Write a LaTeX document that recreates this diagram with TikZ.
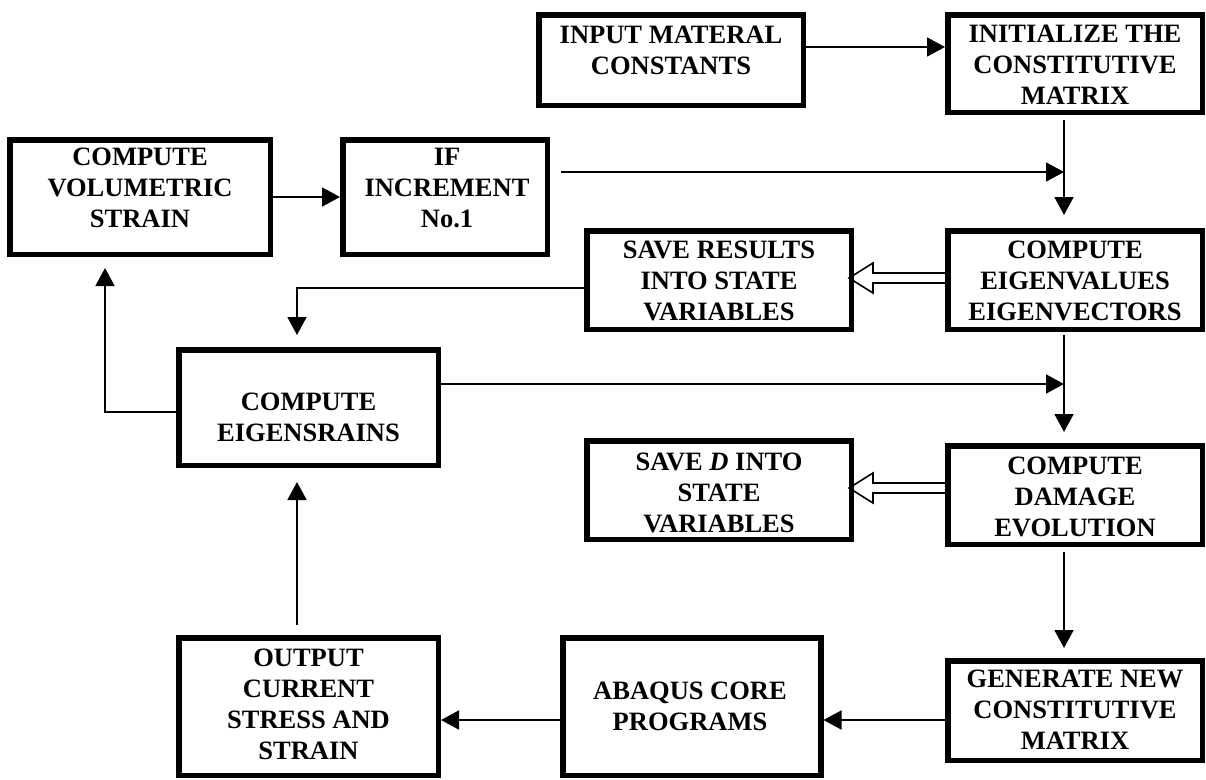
\documentclass[tikz,border=0pt]{standalone}
\usepackage{fontspec}
\setmainfont{Liberation Serif}
\usetikzlibrary{arrows.meta,calc}
\begin{document}
\begin{tikzpicture}[x=1pt,y=-1pt,
  box/.style={draw, line width=5.5pt, inner sep=0pt},
  txt/.style={inner sep=0pt, align=center, font=\fontsize{26.5}{31}\selectfont\bfseries},
  arr/.style={line width=1.8pt, -{Triangle[length=18pt,width=19pt]}},
  hol/.style={line width=1.6pt}]
\useasboundingbox (0,0) rectangle (1206,779);
% boxes
\node[box, minimum width=264.5, minimum height=90.5] (inp) at (671,60) {};
\node[box, minimum width=254.5, minimum height=97.5] (ini) at (1075,63.5) {};
\node[box, minimum width=260.5, minimum height=114.5] (vol) at (140,197) {};
\node[box, minimum width=204.5, minimum height=114.5] (iff) at (445,197) {};
\node[box, minimum width=264.5, minimum height=98.5] (sres) at (719,280) {};
\node[box, minimum width=254.5, minimum height=98.5] (eig) at (1075,280) {};
\node[box, minimum width=259.5, minimum height=115.5] (estr) at (308.5,407.5) {};
\node[box, minimum width=264.5, minimum height=98.5] (sd) at (719,490) {};
\node[box, minimum width=254.5, minimum height=98.5] (dam) at (1075,495) {};
\node[box, minimum width=254.5, minimum height=99.5] (gen) at (1075,710.5) {};
\node[box, minimum width=258, minimum height=137.5] (aba) at (691.75,706.5) {};
\node[box, minimum width=259.5, minimum height=137.5] (out) at (308.5,706.5) {};
% texts
\node[txt] (inp-t) at (671,50) {INPUT MATERAL\\CONSTANTS};
\node[txt] (ini-t) at (1075,65) {INITIALIZE THE\\CONSTITUTIVE\\MATRIX};
\node[txt] (vol-t) at (140,188) {COMPUTE\\VOLUMETRIC\\STRAIN};
\node[txt] (iff-t) at (447,188) {IF\\INCREMENT\\No.1};
\node[txt] (sres-t) at (719,281) {SAVE RESULTS\\INTO STATE\\VARIABLES};
\node[txt] (eig-t) at (1075,281) {COMPUTE\\EIGENVALUES\\EIGENVECTORS};
\node[txt] (estr-t) at (308.5,417.5) {COMPUTE\\EIGENSRAINS};
\node[txt] (sd-t) at (719,492.5) {SAVE \textit{D} INTO\\STATE\\VARIABLES};
\node[txt] (dam-t) at (1075,497) {COMPUTE\\DAMAGE\\EVOLUTION};
\node[txt] (gen-t) at (1075,710) {GENERATE NEW\\CONSTITUTIVE\\MATRIX};
\node[txt] (aba-t) at (690,706.5) {ABAQUS CORE\\PROGRAMS};
\node[txt] (out-t) at (308.5,704) {OUTPUT\\CURRENT\\STRESS AND\\STRAIN};
% helper coordinates
\coordinate (yA) at (0,47);
\coordinate (j1) at (1064,172);
\coordinate (j2) at (1064,384);
\coordinate (xC) at (297,0);
\coordinate (yD) at (0,288);
\coordinate (yN) at (0,412);
\coordinate (xW) at (105,0);
\coordinate (yK) at (0,720);
% connectors
\draw[arr] (inp.east|-yA) -- (ini.west|-yA);
\draw[arr] ($(iff.east|-j1)+(11,0)$) -- (j1);
\draw[arr] ($(ini.south-|j1)+(0,5)$) -- ($(eig.north-|j1)+(0,-13)$);
\draw[arr] (vol.east) -- (iff.west);
\draw[arr] (sres.west|-yD) -| ($(estr.north-|xC)+(0,-12)$);
\draw[arr] (estr.east|-j2) -- (j2);
\draw[arr] ($(eig.south-|j1)+(0,3)$) -- ($(dam.north-|j1)+(0,-11)$);
\draw[arr] ($(dam.south-|j1)+(0,5)$) -- ($(gen.north-|j1)+(0,-10)$);
\draw[arr] (gen.west|-yK) -- (aba.east|-yK);
\draw[arr] (aba.west|-yK) -- (out.east|-yK);
\draw[arr] ($(out.north-|xC)+(0,-10)$) -- ($(estr.south-|xC)+(0,14)$);
\draw[arr] (estr.west|-yN) -| ($(vol.south-|xW)+(0,11)$);
% hollow arrows
\path ($(sres.east)+(0,-7)$) coordinate (sresA) ($(sres.east)+(0,3)$) coordinate (sresB);
\draw[hol] (eig.west|-sresA) -- ($(sres.east)+(19,-7)$) -- ($(sres.east)+(19,-17)$) -- ($(sres.east)+(-5,-2)$) -- ($(sres.east)+(19,13)$) -- ($(sres.east)+(19,3)$) -- (eig.west|-sresB);
\path ($(sd.east)+(0,-7)$) coordinate (sdA) ($(sd.east)+(0,3)$) coordinate (sdB);
\draw[hol] (dam.west|-sdA) -- ($(sd.east)+(19,-7)$) -- ($(sd.east)+(19,-17)$) -- ($(sd.east)+(-5,-2)$) -- ($(sd.east)+(19,13)$) -- ($(sd.east)+(19,3)$) -- (dam.west|-sdB);
\end{tikzpicture}
\end{document}
